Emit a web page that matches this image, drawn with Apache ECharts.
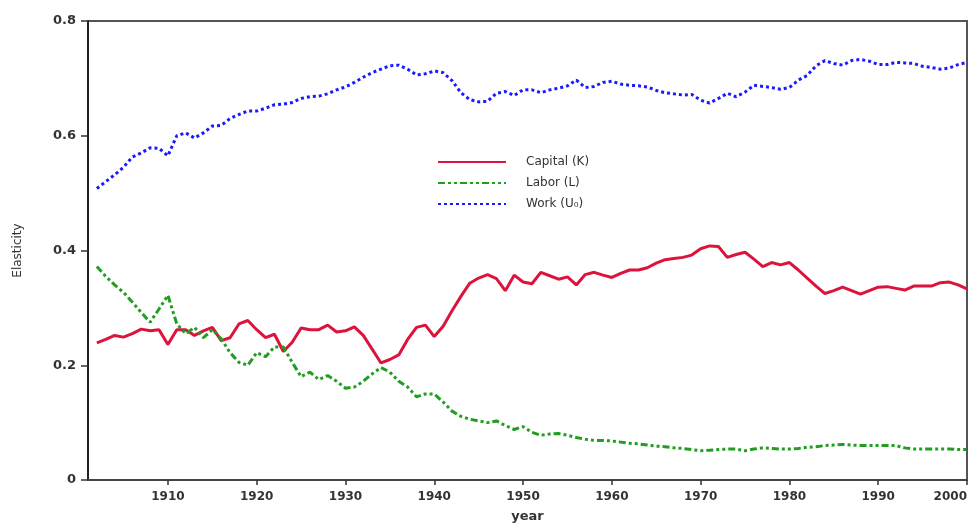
<!DOCTYPE html>
<html>
<head>
<meta charset="utf-8">
<script src="https://cdn.jsdelivr.net/npm/echarts@6/dist/echarts.min.js"></script>
<style>
  html, body { margin: 0; padding: 0; background: #fff; }
  #chart { width: 974px; height: 523px; }
</style>
</head>
<body>
<div id="chart"></div>
<script>
// years 1902 .. 2000
const startYear = 1902
const years = []
for (let y = startYear; y <= 2000; y++) years.push(y)

const capital = [
  0.239, 0.245, 0.252, 0.249, 0.255, 0.263, 0.260, 0.262, 0.236, 0.262,
  0.262, 0.252, 0.260, 0.266, 0.243, 0.248, 0.272, 0.278, 0.262, 0.248,
  0.254, 0.224, 0.240, 0.265, 0.262, 0.262, 0.270, 0.258, 0.260, 0.267,
  0.252, 0.228, 0.204, 0.210, 0.218, 0.245, 0.266, 0.270, 0.250, 0.268,
  0.295, 0.320, 0.343, 0.352, 0.358, 0.351, 0.330, 0.357, 0.345, 0.342,
  0.362, 0.356, 0.350, 0.354, 0.340, 0.358, 0.362, 0.357, 0.353, 0.360,
  0.366, 0.366, 0.370, 0.378, 0.384, 0.386, 0.388, 0.392, 0.403, 0.408,
  0.407, 0.388, 0.393, 0.397, 0.385, 0.372, 0.379, 0.375, 0.379, 0.366,
  0.352, 0.338, 0.325, 0.330, 0.336, 0.330, 0.324, 0.330, 0.336, 0.337,
  0.334, 0.331, 0.338, 0.338, 0.338, 0.344, 0.345, 0.340, 0.333
]

const labor = [
  0.372, 0.355, 0.340, 0.327, 0.310, 0.292, 0.275, 0.298, 0.322, 0.272,
  0.255, 0.266, 0.248, 0.262, 0.246, 0.222, 0.205, 0.200, 0.222, 0.215,
  0.232, 0.232, 0.205, 0.180, 0.188, 0.175, 0.182, 0.172, 0.160, 0.162,
  0.172, 0.185, 0.196, 0.188, 0.172, 0.162, 0.145, 0.150, 0.150, 0.136,
  0.120, 0.111, 0.106, 0.103, 0.100, 0.103, 0.095, 0.088, 0.093, 0.083,
  0.078, 0.080, 0.081, 0.078, 0.074, 0.071, 0.069, 0.069, 0.068, 0.066,
  0.064, 0.063, 0.061, 0.059, 0.058, 0.056, 0.055, 0.053, 0.051, 0.052,
  0.053, 0.054, 0.054, 0.051, 0.054, 0.056, 0.055, 0.054, 0.054, 0.055,
  0.057, 0.058, 0.060, 0.061, 0.062, 0.061, 0.060, 0.060, 0.060, 0.060,
  0.060, 0.056, 0.054, 0.054, 0.054, 0.054, 0.054, 0.053, 0.053
]

const work = [
  0.508, 0.520, 0.532, 0.545, 0.563, 0.570, 0.579, 0.578, 0.565, 0.600,
  0.605, 0.596, 0.605, 0.617, 0.618, 0.630, 0.637, 0.643, 0.643, 0.648,
  0.654, 0.655, 0.658, 0.665, 0.668, 0.669, 0.673, 0.680, 0.685, 0.693,
  0.702, 0.710, 0.716, 0.722, 0.723, 0.716, 0.706, 0.708, 0.713, 0.710,
  0.696, 0.675, 0.663, 0.659, 0.660, 0.674, 0.677, 0.670, 0.680, 0.680,
  0.675, 0.680, 0.683, 0.687, 0.697, 0.684, 0.686, 0.693, 0.695, 0.690,
  0.688, 0.687, 0.685, 0.679, 0.675, 0.673, 0.671, 0.672, 0.662, 0.657,
  0.665, 0.674, 0.668, 0.676, 0.688, 0.686, 0.684, 0.681, 0.684, 0.697,
  0.705, 0.722, 0.731, 0.726, 0.723, 0.731, 0.733, 0.730, 0.724, 0.724,
  0.728, 0.727, 0.726, 0.721, 0.719, 0.716, 0.718, 0.724, 0.728
]

const xTicks = [1910, 1920, 1930, 1940, 1950, 1960, 1970, 1980, 1990, 2000]
const seriesNames = ['Capital (K)', 'Labor (L)', 'Work (U\u2080)']

const pairs = (arr) => arr.map((v, i) => [years[i], v])

const myChart = echarts.init(document.getElementById('chart'))
const font = 'DejaVu Sans, Liberation Sans, sans-serif'

const option = {
  animation: false,
  textStyle: { fontFamily: font },
  grid: {
    left: 88, right: 7, top: 21, bottom: 43,
    outerBoundsMode: 'none',
    containLabel: false,
    show: true, borderColor: '#555', borderWidth: 2, backgroundColor: '#fff'
  },
  legend: {
    orient: 'vertical',
    left: 432,
    top: 151,
    itemWidth: 68,
    itemHeight: 3,
    itemGap: 9,
    data: seriesNames,
    itemStyle: { opacity: 0 },
    textStyle: { fontSize: 12, color: '#333', padding: [0, 0, 0, 15], fontFamily: font }
  },
  xAxis: {
    type: 'value',
    min: 1901,
    max: 2000,
    name: 'year',
    nameLocation: 'middle',
    nameGap: 30,
    nameTextStyle: { fontSize: 13, fontWeight: 'bold', color: '#333' },
    axisLine: { lineStyle: { color: '#444', width: 2 } },
    axisTick: { show: true, customValues: xTicks, length: 5, lineStyle: { color: '#333', width: 1.5 } },
    axisLabel: {
      customValues: xTicks, fontSize: 12, fontWeight: 'bold', color: '#333', margin: 11,
      alignMaxLabel: 'right',
      formatter: (v) => String(v)
    },
    splitLine: { show: false }
  },
  yAxis: {
    type: 'value',
    min: 0,
    max: 0.8,
    interval: 0.2,
    name: 'Elasticity',
    nameLocation: 'middle',
    nameGap: 64,
    nameTextStyle: { fontSize: 12, color: '#333' },
    axisLine: { show: true, lineStyle: { color: '#222', width: 2 } },
    axisTick: { show: true, length: 7, lineStyle: { color: '#333', width: 1.5 } },
    axisLabel: { fontSize: 13, fontWeight: 'bold', color: '#333', margin: 12 },
    splitLine: { show: false }
  },
  series: [
    {
      name: seriesNames[0],
      type: 'line',
      symbol: 'none',
      data: pairs(capital),
      lineStyle: { color: '#dc143c', width: 3 },
      itemStyle: { color: '#dc143c' }
    },
    {
      name: seriesNames[1],
      type: 'line',
      symbol: 'none',
      data: pairs(labor),
      lineStyle: { color: '#1f9e1f', width: 3, type: [7, 3, 3, 3, 3, 3] },
      itemStyle: { color: '#1f9e1f' }
    },
    {
      name: seriesNames[2],
      type: 'line',
      symbol: 'none',
      data: pairs(work),
      lineStyle: { color: '#1a1aff', width: 3, type: [3, 3] },
      itemStyle: { color: '#1a1aff' }
    }
  ]
}
myChart.setOption(option)
</script>
</body>
</html>
